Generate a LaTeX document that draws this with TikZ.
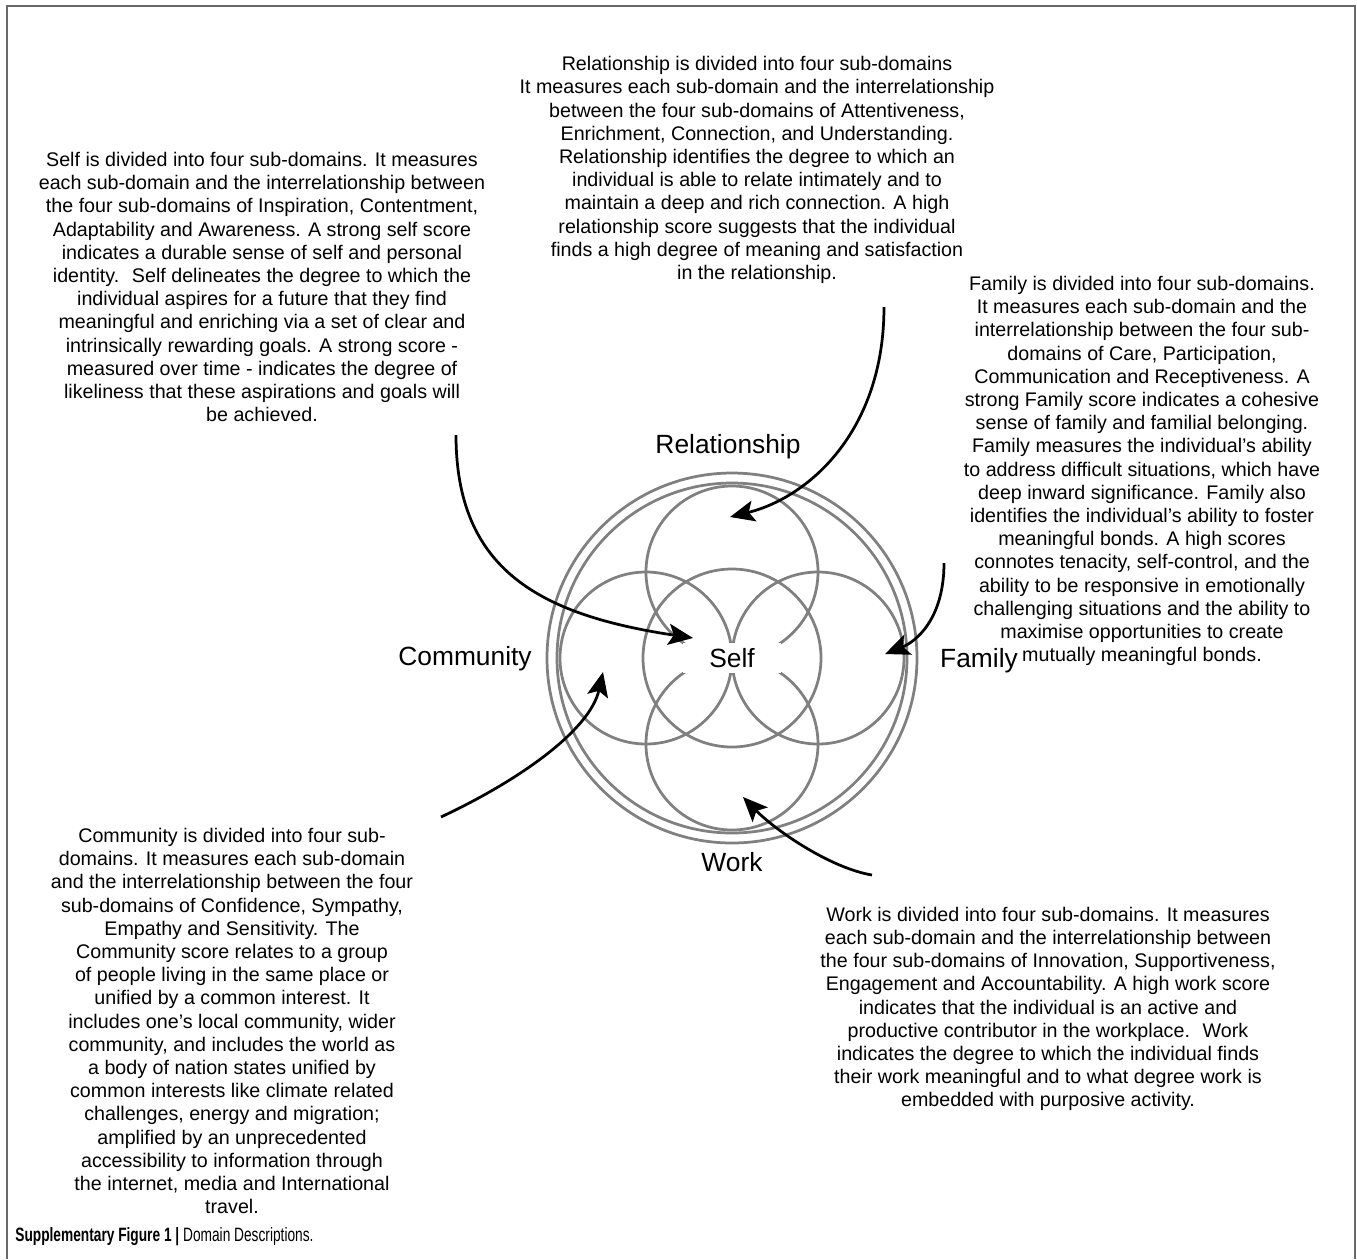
\documentclass[tikz,border=0pt]{standalone}
\usepackage{fontspec}
\setmainfont{Liberation Sans}
\newfontfamily\capfont[FakeStretch=0.71]{Liberation Sans}
\usetikzlibrary{arrows.meta}

\definecolor{ringgray}{RGB}{128,128,128}
\definecolor{framegray}{RGB}{105,105,105}

\tikzset{
  desc/.style={align=center,inner sep=0pt,font=\fontsize{11.2}{13.2}\selectfont},
  domainlabel/.style={inner sep=0pt,font=\fontsize{15}{18}\selectfont},
  ring/.style={draw=ringgray,line width=0.055cm},
  pointer/.style={line width=0.055cm,-{Stealth[length=14pt,width=12pt,inset=3pt]}},
}

\begin{document}
\begin{tikzpicture}[x=0.02cm,y=-0.02cm]
\useasboundingbox (0,0) rectangle (1357,1259);
\draw[framegray,line width=0.04cm] (7,1259) -- (7,6) -- (1355,6) -- (1355,1259);

% the rings
\coordinate (c) at (732,658);
\draw[ring] (c) circle[radius=185];
\draw[ring] (c) circle[radius=175];
\draw[ring] (c) circle[radius=89];
\foreach \dx/\dy in {86/0,-86/0,0/86,0/-86}
  \draw[ring] ([shift={(\dx,\dy)}]c) circle[radius=86];

% domain names
\node[domainlabel,fill=white,minimum width=1.96cm,minimum height=0.6cm] (self) at (c) {Self};
\node[domainlabel] (relationship) at (728,447) {Relationship};
\node[domainlabel] (community) at (465,659) {Community};
\node[domainlabel] (family) at (979,661) {Family};
\node[domainlabel] (work) at (732,862) {Work};

% descriptions
\node[desc] (relText) at (757,170) {Relationship is divided into four sub-domains\\
It measures each sub-domain and the interrelationship\\
between the four sub-domains of Attentiveness,\\
Enrichment, Connection, and Understanding.\\
Relationship identifies the degree to which an\\
individual is able to relate intimately and to\\
maintain a deep and rich connection. A high\\
relationship score suggests that the individual\\
finds a high degree of meaning and satisfaction\\
in the relationship.};
\node[desc] (selfText) at (262,287) {Self is divided into four sub-domains. It measures\\
each sub-domain and the interrelationship between\\
the four sub-domains of Inspiration, Contentment,\\
Adaptability and Awareness. A strong self score\\
indicates a durable sense of self and personal\\
identity.~ Self delineates the degree to which the\\
individual aspires for a future that they find\\
meaningful and enriching via a set of clear and\\
intrinsically rewarding goals. A strong score -\\
measured over time - indicates the degree of\\
likeliness that these aspirations and goals will\\
be achieved.};
\node[desc] (famText) at (1142,471) {Family is divided into four sub-domains.\\
It measures each sub-domain and the\\
interrelationship between the four sub-\\
domains of Care, Participation,\\
Communication and Receptiveness. A\\
strong Family score indicates a cohesive\\
sense of family and familial belonging.\\
Family measures the individual’s ability\\
to address difficult situations, which have\\
deep inward significance. Family also\\
identifies the individual’s ability to foster\\
meaningful bonds. A high scores\\
connotes tenacity, self-control, and the\\
ability to be responsive in emotionally\\
challenging situations and the ability to\\
maximise opportunities to create\\
mutually meaningful bonds.};
\node[desc] (commText) at (232,1021) {Community is divided into four sub-\\
domains. It measures each sub-domain\\
and the interrelationship between the four\\
sub-domains of Confidence, Sympathy,\\
Empathy and Sensitivity. The\\
Community score relates to a group\\
of people living in the same place or\\
unified by a common interest. It\\
includes one’s local community, wider\\
community, and includes the world as\\
a body of nation states unified by\\
common interests like climate related\\
challenges, energy and migration;\\
amplified by an unprecedented\\
accessibility to information through\\
the internet, media and International\\
travel.};
\node[desc] (workText) at (1048,1009) {Work is divided into four sub-domains. It measures\\
each sub-domain and the interrelationship between\\
the four sub-domains of Innovation, Supportiveness,\\
Engagement and Accountability. A high work score\\
indicates that the individual is an active and\\
productive contributor in the workplace.~ Work\\
indicates the degree to which the individual finds\\
their work meaningful and to what degree work is\\
embedded with purposive activity.};

% the arrows
\coordinate (selfTail) at (456,435);
\coordinate (selfTip) at (693,638);
\coordinate (relTail) at (884,307);
\coordinate (relTip) at (730,517);
\coordinate (famTail) at (944,563);
\coordinate (famTip) at (885,654);
\coordinate (commTail) at (441,817);
\coordinate (commTip) at (603,672);
\coordinate (workTail) at (872,875);
\coordinate (workTip) at (743,797);
\draw[pointer] (selfTail) .. controls +(0,135) and +(-153,-23) .. (selfTip);
\draw[pointer] (relTail) .. controls +(0,123) and +(80,-20) .. (relTip);
\draw[pointer] (famTail) .. controls +(0,57) and +(30,-12) .. (famTip);
\draw[pointer] (commTail) .. controls +(79,-37) and +(-13,58) .. (commTip);
\draw[pointer] (workTail) .. controls +(-42,-7) and +(32,33) .. (workTip);

\node[anchor=west,inner sep=0pt,font=\capfont\fontsize{11}{13}\selectfont] (caption) at (15,1237)
  {\textbf{Supplementary Figure 1 |} Domain Descriptions.};
\end{tikzpicture}
\end{document}
